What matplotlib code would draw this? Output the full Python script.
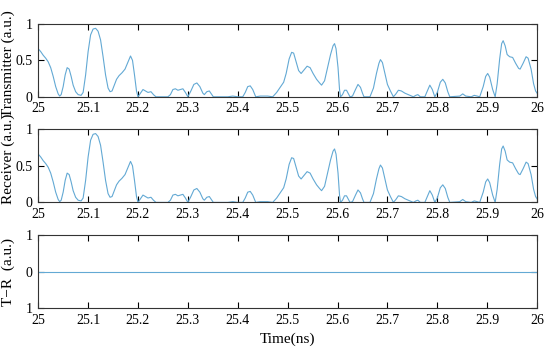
# transmitter / receiver waveform comparison, three stacked panels
import numpy as np
import matplotlib
matplotlib.use('Agg')
import matplotlib.pyplot as plt

# time samples (ns)
time_ns = [25.000, 25.005, 25.010, 25.015, 25.020, 25.025, 25.030, 25.035, 25.040, 25.043,
           25.046, 25.050, 25.054, 25.058, 25.062, 25.066, 25.070, 25.075, 25.080, 25.086,
           25.090, 25.095, 25.100, 25.105, 25.110, 25.115, 25.120, 25.125, 25.130, 25.135,
           25.140, 25.144, 25.148, 25.152, 25.157, 25.162, 25.168, 25.174, 25.180, 25.185,
           25.189, 25.193, 25.197, 25.200, 25.205, 25.210, 25.215, 25.220, 25.226, 25.231,
           25.236, 25.260, 25.265, 25.270, 25.275, 25.280, 25.285, 25.290, 25.295, 25.300,
           25.306, 25.312, 25.318, 25.324, 25.330, 25.333, 25.338, 25.343, 25.347, 25.351,
           25.380, 25.390, 25.400, 25.410, 25.415, 25.420, 25.425, 25.430, 25.436, 25.445,
           25.460, 25.470, 25.478, 25.486, 25.492, 25.497, 25.503, 25.508, 25.512, 25.517,
           25.522, 25.527, 25.533, 25.539, 25.545, 25.551, 25.558, 25.564, 25.568, 25.574,
           25.580, 25.586, 25.591, 25.594, 25.597, 25.601, 25.604, 25.606, 25.610, 25.614,
           25.618, 25.622, 25.625, 25.630, 25.636, 25.641, 25.646, 25.650, 25.653, 25.665,
           25.672, 25.678, 25.683, 25.686, 25.690, 25.695, 25.700, 25.706, 25.712, 25.717,
           25.722, 25.728, 25.735, 25.745, 25.752, 25.757, 25.761, 25.766, 25.775, 25.780,
           25.785, 25.790, 25.795, 25.800, 25.806, 25.811, 25.816, 25.821, 25.825, 25.845,
           25.851, 25.857, 25.868, 25.874, 25.880, 25.885, 25.892, 25.897, 25.901, 25.905,
           25.911, 25.916, 25.920, 25.925, 25.929, 25.932, 25.936, 25.940, 25.945, 25.951,
           25.957, 25.963, 25.966, 25.972, 25.978, 25.982, 25.988, 25.993, 25.997, 26.000]

# transmitter amplitude (a.u.)
tx = [0.66, 0.62, 0.57, 0.53, 0.48, 0.40, 0.28, 0.14, 0.04, 0.01,
      0.03, 0.14, 0.30, 0.40, 0.38, 0.28, 0.16, 0.07, 0.03, 0.02,
      0.06, 0.30, 0.62, 0.85, 0.93, 0.94, 0.90, 0.78, 0.55, 0.30,
      0.12, 0.07, 0.08, 0.15, 0.24, 0.29, 0.33, 0.38, 0.48, 0.56,
      0.50, 0.30, 0.08, 0.00, 0.05, 0.10, 0.08, 0.06, 0.07, 0.03,
      0.00, 0.00, 0.03, 0.10, 0.11, 0.09, 0.10, 0.11, 0.06, 0.00,
      0.08, 0.17, 0.19, 0.14, 0.05, 0.03, 0.07, 0.08, 0.04, 0.00,
      0.00, 0.01, 0.00, 0.00, 0.06, 0.14, 0.15, 0.10, 0.00, 0.01,
      0.01, 0.00, 0.06, 0.14, 0.20, 0.32, 0.52, 0.61, 0.60, 0.48,
      0.36, 0.32, 0.37, 0.42, 0.40, 0.32, 0.24, 0.19, 0.16, 0.22,
      0.40, 0.58, 0.70, 0.73, 0.66, 0.40, 0.10, 0.00, 0.03, 0.09,
      0.09, 0.04, 0.00, 0.01, 0.10, 0.17, 0.13, 0.05, 0.00, 0.00,
      0.12, 0.32, 0.46, 0.51, 0.47, 0.32, 0.17, 0.08, 0.00, 0.04,
      0.09, 0.08, 0.05, 0.02, 0.00, 0.02, 0.03, 0.00, 0.00, 0.08,
      0.16, 0.10, 0.00, 0.06, 0.20, 0.24, 0.19, 0.07, 0.00, 0.01,
      0.04, 0.01, 0.00, 0.02, 0.01, 0.00, 0.14, 0.28, 0.32, 0.27,
      0.10, 0.00, 0.18, 0.52, 0.73, 0.77, 0.70, 0.58, 0.55, 0.54,
      0.46, 0.39, 0.38, 0.46, 0.55, 0.53, 0.38, 0.18, 0.08, 0.05]

# receiver trace is identical to the transmitter one
rx = list(tx)

x_ticks = [25, 25.1, 25.2, 25.3, 25.4, 25.5, 25.6, 25.7, 25.8, 25.9, 26]
x_labels = ['25', '25.1', '25.2', '25.3', '25.4', '25.5', '25.6', '25.7', '25.8', '25.9', '26']

plt.rcParams['font.family'] = ['Liberation Serif', 'DejaVu Serif']
plt.rcParams['font.size'] = 10

line_color = '#63a9d4'

fig = plt.figure(figsize=(5.5, 3.52), dpi=100)
left, width = 0.0695, 0.907
ax1 = fig.add_axes([left, 0.725, width, 0.207])
ax2 = fig.add_axes([left, 0.425, width, 0.208])
ax3 = fig.add_axes([left, 0.124, width, 0.208])

diff = np.array(tx) - np.array(rx)

ax1.plot(time_ns, tx, color=line_color, lw=0.8)
ax2.plot(time_ns, rx, color=line_color, lw=0.8)
ax3.plot(time_ns, diff, color=line_color, lw=0.8)

for ax in (ax1, ax2, ax3):
    ax.set_xlim(25, 26)
    ax.set_xticks(x_ticks)
    ax.set_xticklabels(x_labels)
    ax.tick_params(direction='in', top=True, right=True, length=4, width=0.8)
    ax.tick_params(axis='x', pad=4)
    ax.tick_params(axis='y', pad=4)
    for s in ax.spines.values():
        s.set_linewidth(0.8)
        s.set_color('#333333')

for ax in (ax1, ax2):
    ax.set_ylim(0, 1)
    ax.set_yticks([0, 0.5, 1])
    ax.set_yticklabels(['0', '0.5', '1'])

ax3.set_ylim(-1, 1)
ax3.set_yticks([-1, 0, 1])
ax3.set_yticklabels(['1', '0', '1'])

ax1.set_ylabel('Transmitter (a.u.)', fontsize=11)
ax2.set_ylabel('Receiver (a.u.)', fontsize=11)
ax3.set_ylabel('T\u2212R  (a.u.)', fontsize=11)
ax1.yaxis.set_label_coords(-0.047, 0.45)
ax2.yaxis.set_label_coords(-0.047, 0.6)
ax3.yaxis.set_label_coords(-0.047, 0.5)
ax3.set_xlabel('Time(ns)', fontsize=11, labelpad=4)

plt.savefig('out.png', dpi=100)
plt.close()
